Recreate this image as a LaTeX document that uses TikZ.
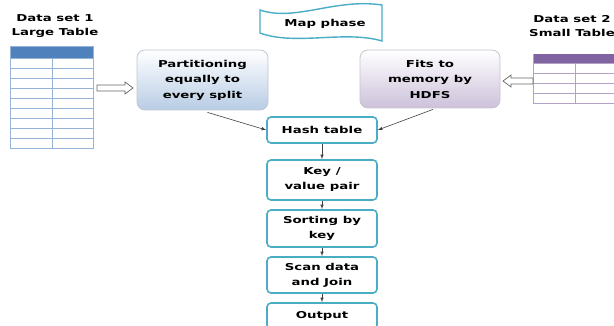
\documentclass[tikz,border=0pt]{standalone}
\usepackage{fontspec}
\setmainfont{DejaVu Sans}[FakeStretch=1.4]
\usetikzlibrary{positioning,calc,arrows}
\definecolor{flowteal}{HTML}{4BACC6}
\definecolor{tblblue}{HTML}{4F81BD}
\definecolor{tblbluel}{HTML}{95B3D7}
\definecolor{tblpurple}{HTML}{8064A2}
\definecolor{tblpurplel}{HTML}{B3A2C7}
\definecolor{partblue}{HTML}{B8CCE4}
\definecolor{fitpurple}{HTML}{CCC1DA}

\begin{document}
\begin{tikzpicture}[x=1pt,y=-1pt,
	stepbox/.style={draw=flowteal, line width=1.6pt, rounded corners=4pt, fill=white,
		minimum width=110pt, inner sep=2pt, align=center, font=\bfseries\fontsize{9.5}{15}\selectfont},
	softbox/.style={rounded corners=8pt, line width=0.8pt, inner sep=2pt, align=center,
		font=\bfseries\fontsize{9.5}{15.5}\selectfont},
	hollow/.style={draw=black!60, fill=white, line width=0.7pt, line join=miter},
	arrline/.style={-latex, black!75, line width=0.6pt},
	label/.style={font=\bfseries\fontsize{9.5}{14}\selectfont, align=center}]
	\useasboundingbox (0,0) rectangle (614,326);
	\clip (0,0) rectangle (614,326);
	% large table
	\fill[tblblue] (10,47) rectangle (93,59);
	\foreach \y in {59,69,...,149}
		\draw[tblbluel, line width=1pt] (10,\y) -- (93,\y);
	\draw[tblbluel, line width=1pt] (52,59) -- (52,149);
	\draw[tblbluel, line width=1pt] (10,47) rectangle (93,149);
	\coordinate (tblA) at (93,88);
	\node[label] (dsA) at (55,26) {Data set 1\\Large Table};
	% small table
	\fill[tblpurple] (533,54) rectangle (620,64);
	\foreach \y in {64,74,...,104}
		\draw[tblpurplel, line width=1pt] (533,\y) -- (620,\y);
	\draw[tblpurplel, line width=1pt] (575,64) -- (575,104);
	\draw[tblpurplel, line width=1pt] (533,54) -- (533,104);
	\coordinate (tblB) at (533,81);
	\node[label] (dsB) at (572,26) {Data set 2\\Small Table};
	% map phase banner
	\draw[flowteal, line width=1.4pt, fill=white] (260,10) .. controls (295,22) and (335,-2) .. (382,5)
		-- (382,41) .. controls (345,30) and (295,46) .. (260,33) -- cycle;
	\node[label] (mapt) at (325,24) {Map phase};
	% side boxes
	\node[softbox, draw=partblue!80!black!60, top color=white, bottom color=partblue,
		minimum width=131pt, minimum height=60pt] (part) at (202.5,80)
		{Partitioning\\equally to\\every split};
	\node[softbox, draw=fitpurple!80!black!60, top color=white, bottom color=fitpurple,
		minimum width=140pt, minimum height=58pt] (fits) at (430,79)
		{Fits to\\memory by\\HDFS};
	% hollow arrows
	\draw[hollow] ($(tblA)+(4,-3)$) -- ++(28,0) -- ++(0,-3) -- ++(8,6) -- ++(-8,6)
		-- ++(0,-3) -- ++(-28,0) -- cycle;
	\draw[hollow] ($(tblB)+(0,-3)$) -- ++(-22,0) -- ++(0,-3) -- ++(-8,6) -- ++(8,6)
		-- ++(0,-3) -- ++(22,0) -- cycle;
	% flow
	\node[stepbox, minimum height=26pt] (hash) at (322,130) {Hash table};
	\node[stepbox, minimum height=40pt] (kv) at (322,180) {Key /\\value pair};
	\node[stepbox, minimum height=37pt] (sort) at (322,228.5) {Sorting by\\key};
	\node[stepbox, minimum height=36pt] (scan) at (322,275) {Scan data\\and Join};
	\node[stepbox, minimum height=26pt] (out) at (322,316) {Output};
	\draw[arrline] ($(part.south)+(5,2)$) -- (hash.west);
	\draw[arrline] ($(fits.south)+(3,1)$) -- (hash.east);
	\draw[arrline] (hash) -- (kv);
	\draw[arrline] (kv) -- (sort);
	\draw[arrline] (sort) -- (scan);
	\draw[arrline] (scan) -- (out);
\end{tikzpicture}
\end{document}
